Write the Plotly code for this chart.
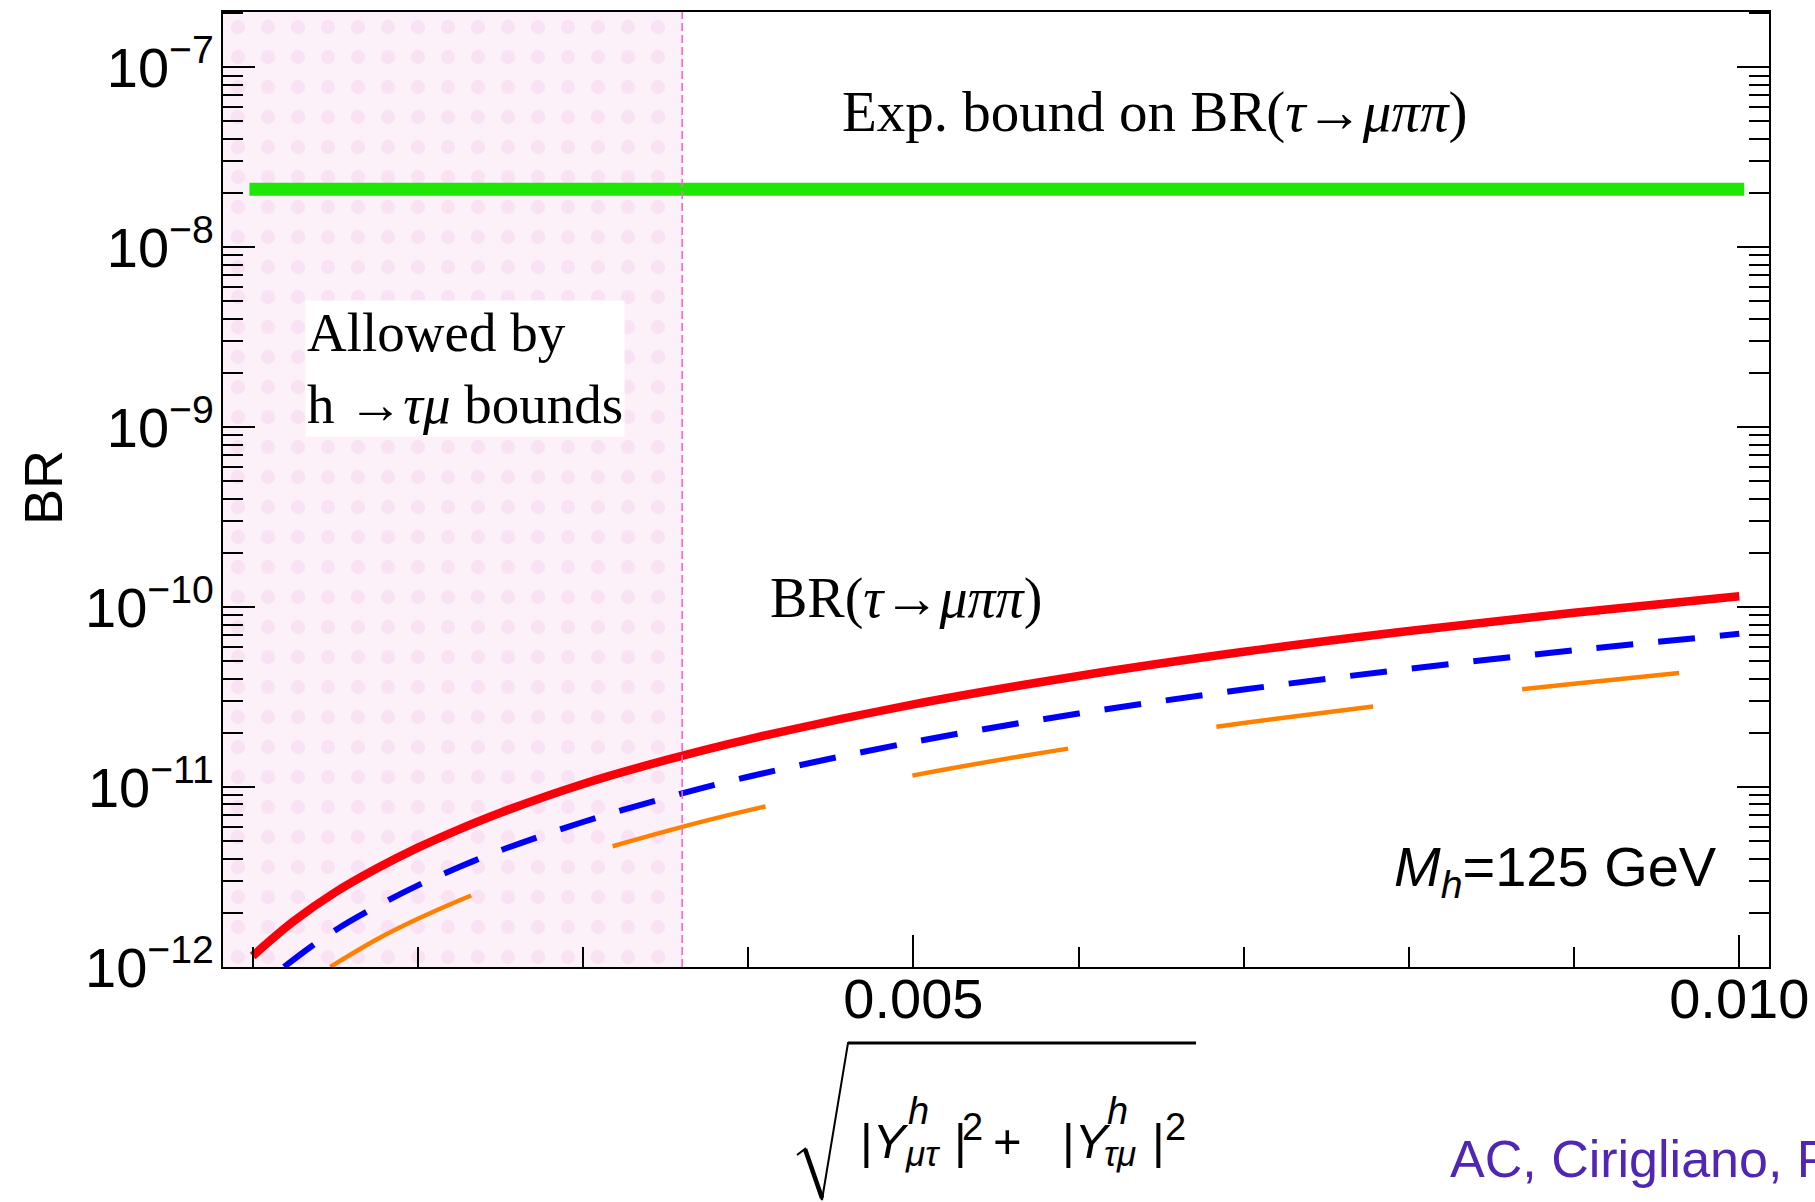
import plotly.graph_objects as go

# --- data -------------------------------------------------------------------
# coupling combination sqrt(|Y_mu tau|^2 + |Y_tau mu|^2)
x_total = [0.0010, 0.00125, 0.0015, 0.00175, 0.0020, 0.00225, 0.0025, 0.0030, 0.0035,
           0.0040, 0.0050, 0.0060, 0.0070, 0.0080, 0.0090, 0.0100]
br_total = [1.15e-12, 1.80e-12, 2.60e-12, 3.52e-12, 4.60e-12, 5.82e-12, 7.20e-12,
            1.04e-11, 1.41e-11, 1.84e-11, 2.88e-11, 4.14e-11, 5.64e-11, 7.36e-11,
            9.30e-11, 1.15e-10]

x_part_a = [0.00119, 0.00135, 0.0015, 0.00175, 0.0020, 0.00225, 0.0025, 0.0030,
            0.0035, 0.0040, 0.0050, 0.0060, 0.0070, 0.0080, 0.0090, 0.0100]
br_part_a = [1.00e-12, 1.29e-12, 1.60e-12, 2.17e-12, 2.84e-12, 3.59e-12, 4.44e-12,
             6.39e-12, 8.70e-12, 1.14e-11, 1.78e-11, 2.56e-11, 3.48e-11, 4.54e-11,
             5.75e-11, 7.10e-11]

x_part_b = [0.00147, 0.00175, 0.0020, 0.00225, 0.0025, 0.0030, 0.0035, 0.0040,
            0.0050, 0.0060, 0.0070, 0.0080, 0.0090, 0.0100]
br_part_b = [1.00e-12, 1.42e-12, 1.85e-12, 2.34e-12, 2.89e-12, 4.17e-12, 5.67e-12,
             7.41e-12, 1.16e-11, 1.67e-11, 2.27e-11, 2.96e-11, 3.75e-11, 4.63e-11]

x_bound = [0.00098, 0.01003]
br_bound = [2.1e-8, 2.1e-8]

allowed_max = 0.0036          # upper edge of the h -> tau mu allowed band
x_range = [0.00082, 0.01018]
br_range = [1e-12, 2.03e-7]
x_ticks = [0.005, 0.010]
x_tick_labels = ["0.005", "0.010"]
y_ticks = [1e-12, 1e-11, 1e-10, 1e-9, 1e-8, 1e-7]
y_exponents = ["−12", "−11", "−10", "−9", "−8", "−7"]

# --- geometry helpers (pixel -> paper) -----------------------------------------
W, H = 1815, 1202
L, R, T, B = 223, 46, 12, 235
PW, PH = W - L - R, H - T - B


def px(xp):
    return (xp - L) / PW


def py(yp):
    return (H - B - yp) / PH


SERIF = "Liberation Serif, Times New Roman, serif"
SANS = "Liberation Sans, Arial, Helvetica, sans-serif"

fig = go.Figure()

# allowed band
fig.add_trace(go.Scatter(
    x=[x_range[0], allowed_max, allowed_max, x_range[0], x_range[0]],
    y=[br_range[0], br_range[0], br_range[1], br_range[1], br_range[0]],
    mode="none", fill="toself", fillcolor="rgb(252,241,248)",
    fillpattern=dict(shape=".", size=30, solidity=0.18,
                     fgcolor="rgb(246,212,237)", bgcolor="rgb(252,241,248)"),
    hoverinfo="skip", showlegend=False))

# experimental bound
fig.add_trace(go.Scatter(x=x_bound, y=br_bound, mode="lines",
                         line=dict(color="rgb(30,230,5)", width=13),
                         showlegend=False))

fig.add_trace(go.Scatter(x=x_part_b, y=br_part_b, mode="lines",
                         line=dict(color="rgb(255,128,0)", width=4.5,
                                   dash="158px,150px", shape="spline"),
                         showlegend=False))
fig.add_trace(go.Scatter(x=x_part_a, y=br_part_a, mode="lines",
                         line=dict(color="rgb(0,0,250)", width=6,
                                   dash="37px,25px", shape="spline"),
                         showlegend=False))
fig.add_trace(go.Scatter(x=x_total, y=br_total, mode="lines",
                         line=dict(color="rgb(250,0,10)", width=8.5, shape="spline"),
                         showlegend=False))

# edge of allowed band
fig.add_shape(type="line", xref="x", yref="paper", x0=allowed_max, x1=allowed_max,
              y0=0, y1=1, line=dict(color="rgb(255,100,200)", width=1.6, dash="8px,4px"),
              layer="above")

# radical sign for the x-axis title
rad = [(797, 1155), (805, 1149), (822, 1200), (848, 1043), (1196, 1043)]
path = "M " + " L ".join(f"{px(a):.5f},{py(b):.5f}" for a, b in rad)
fig.add_shape(type="path", xref="paper", yref="paper", path=path,
              line=dict(color="black", width=2))
fig.add_shape(type="line", xref="paper", yref="paper",
              x0=px(805), y0=py(1149), x1=px(822), y1=py(1198),
              line=dict(color="black", width=4.5))
fig.add_shape(type="line", xref="paper", yref="paper",
              x0=px(848), y0=py(1043), x1=px(1196), y1=py(1043),
              line=dict(color="black", width=3))

ann = [
    dict(text="Exp. bound on BR(<i>τ</i>→<i>μππ</i>)", x=px(840), y=py(112),
         xanchor="left", yanchor="middle", font=dict(family=SERIF, size=57)),
    dict(text="Allowed by<br>h →<i>τμ</i> bounds", x=px(305), y=py(300),
         xanchor="left", yanchor="top", align="left", bgcolor="white", borderpad=1,
         font=dict(family=SERIF, size=55)),
    dict(text="BR(<i>τ</i>→<i>μππ</i>)", x=px(768), y=py(598),
         xanchor="left", yanchor="middle", font=dict(family=SERIF, size=56)),
    dict(text="<i>M</i><sub><i>h</i></sub>=125 GeV", x=px(1719), y=py(870),
         xanchor="right", yanchor="middle", font=dict(family=SANS, size=56)),
    dict(text="BR", x=px(43), y=py(488), textangle=-90,
         xanchor="center", yanchor="middle", font=dict(family=SANS, size=54)),
    dict(text="AC, Cirigliano, Passemar", x=px(1448), y=py(1159),
         xanchor="left", yanchor="middle",
         font=dict(family=SANS, size=52, color="rgb(80,38,180)")),
]

# x-axis title pieces: |Y^h_{mu tau}|^2 + |Y^h_{tau mu}|^2 with stacked indices
MAIN, SCR, GRK = 49, 38, 35
pieces = [
    ("|<i>Y</i>", 911, 1141, MAIN, "right"),
    ("<i>h</i>", 918, 1111, SCR, "center"),
    ("<i>μτ</i>", 922, 1153, GRK, "center"),
    ("|", 952, 1141, MAIN, "left"),
    ("2", 960, 1127, SCR, "left"),
    ("+", 1007, 1141, MAIN, "center"),
    ("|<i>Y</i>", 1113, 1141, MAIN, "right"),
    ("<i>h</i>", 1117, 1111, SCR, "center"),
    ("<i>τμ</i>", 1120, 1153, GRK, "center"),
    ("|", 1150, 1141, MAIN, "left"),
    ("2", 1163, 1127, SCR, "left"),
]
for s, xp, yp, size, anchor in pieces:
    ann.append(dict(text=s, x=px(xp), y=py(yp), xanchor=anchor, yanchor="middle",
                    font=dict(family=SANS, size=size)))

for a in ann:
    a.update(xref="paper", yref="paper", showarrow=False)
    a["font"].setdefault("color", "black")
fig.update_layout(annotations=ann)

fig.update_xaxes(
    range=x_range, tickvals=x_ticks, ticktext=x_tick_labels,
    ticks="inside", ticklen=32, tickwidth=1.5, tickcolor="black",
    minor=dict(ticks="inside", ticklen=20, tickwidth=1.5, tickcolor="black",
               dtick=0.001, tick0=0),
    showline=True, linewidth=2, linecolor="black", mirror=True,
    showgrid=False, zeroline=False, ticklabeloverflow="allow",
    ticklabelstandoff=-18, automargin=False,
    tickfont=dict(family=SANS, size=56, color="black"))

fig.update_yaxes(
    type="log", range=[-12.0005, -6.6925],
    tickvals=y_ticks, ticktext=[f"10<sup>{e}</sup>" for e in y_exponents],
    ticks="inside", ticklen=32, tickwidth=1.5, tickcolor="black",
    minor=dict(ticks="inside", ticklen=20, tickwidth=1.5, tickcolor="black",
               dtick="D1"),
    showline=True, linewidth=2, linecolor="black", mirror="ticks",
    showgrid=False, zeroline=False, ticklabelstandoff=-4, automargin=False,
    tickfont=dict(family=SANS, size=56, color="black"))

fig.update_layout(
    width=W, height=H, margin=dict(l=L, r=R, t=T, b=B, autoexpand=False),
    paper_bgcolor="white", plot_bgcolor="white", showlegend=False)

fig.write_html("out.html")
